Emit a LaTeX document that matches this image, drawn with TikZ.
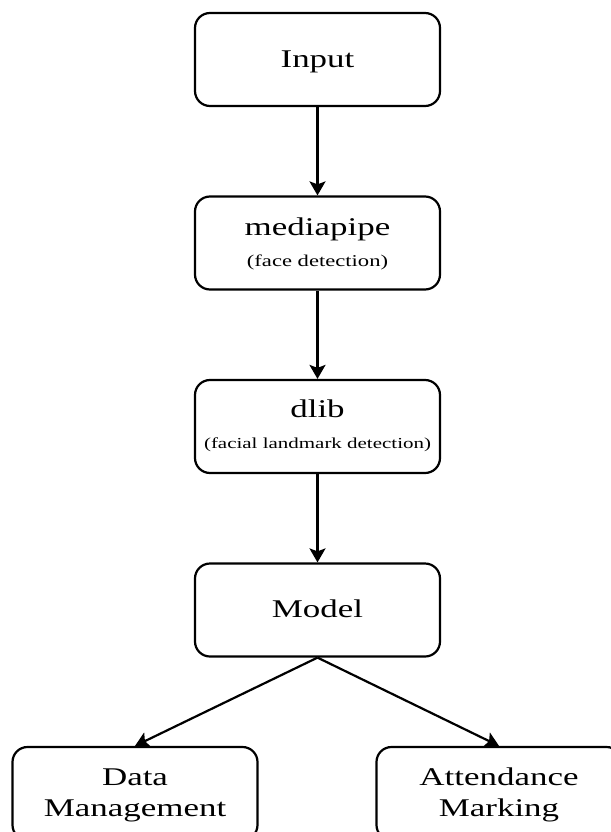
\documentclass[tikz,border=0pt]{standalone}
\usepackage{fontspec}
\setmainfont{Liberation Serif}[FakeStretch=1.37]
\usetikzlibrary{arrows.meta,calc}
\begin{document}
\begin{tikzpicture}[x=1bp,y=-1bp,
  box/.style={draw=black, line width=2.2bp, rounded corners=15bp,
    minimum width=245bp, minimum height=93bp, inner sep=0pt},
  bigtxt/.style={font=\fontsize{25.5bp}{30.6bp}\selectfont, inner sep=0pt, anchor=base},
  smalltxt/.style={font=\fontsize{16.5bp}{19.8bp}\selectfont, inner sep=0pt, anchor=base},
  tinytxt/.style={font=\fontsize{15.3bp}{18.4bp}\selectfont, inner sep=0pt, anchor=base},
  conn/.style={draw=black, line width=2.2bp, -{Stealth[length=14bp,width=16bp,inset=3bp]}}]
\useasboundingbox (0,0) rectangle (611,832);
\fill[white] (0,0) rectangle (611,832);
\clip (0,0) rectangle (611,832);

\node[box] (inp) at (317.5,59.5) {};
\node[box] (mp) at (317.5,243) {};
\node[box] (dl) at (317.5,426.5) {};
\node[box] (mo) at (317.5,610) {};
\node[box] (dm) at (135,793.5) {};
\node[box] (am) at (499,793.5) {};

\node[bigtxt] (inpT) at ($(inp.north)+(0,56)$) {Input};
\node[bigtxt] (mpT) at ($(mp.north)+(0,40)$) {mediapipe};
\node[smalltxt] (mpS) at ($(mp.north)+(0,71)$) {(face detection)};
\node[bigtxt] (dlT) at ($(dl.north)+(0,39)$) {dlib};
\node[tinytxt] (dlS) at ($(dl.north)+(0,70)$) {(facial landmark detection)};
\node[bigtxt] (moT) at ($(mo.north)+(0,55)$) {Model};
\node[bigtxt] (dmT) at ($(dm.north)+(0,40)$) {Data};
\node[bigtxt] (dmS) at ($(dm.north)+(0,71)$) {Management};
\node[bigtxt] (amT) at ($(am.north)+(0,40)$) {Attendance};
\node[bigtxt] (amS) at ($(am.north)+(0,71)$) {Marking};

\draw[conn, line width=2.2bp] (inp.south) -- (mp.north);
\draw[conn, line width=2.2bp] (mp.south) -- (dl.north);
\draw[conn, line width=2.2bp] (dl.south) -- (mo.north);
\draw[conn, line width=2.2bp] (mo.south) -- (dm.north);
\draw[conn, line width=2.2bp] (mo.south) -- (am.north);
\end{tikzpicture}
\end{document}
